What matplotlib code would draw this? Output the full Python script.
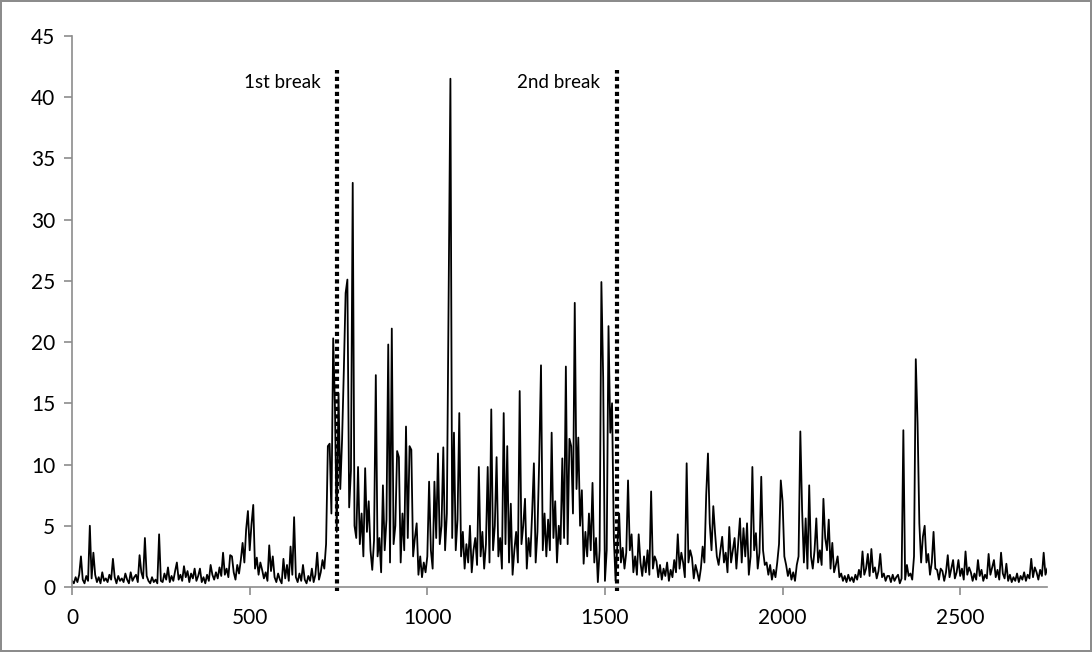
import numpy as np
import matplotlib
matplotlib.use("Agg")
import matplotlib.pyplot as plt

plt.rcParams['font.family'] = ['Lato', 'DejaVu Sans']

# sample spacing of the series (x units)
step = 5

# series values, one row per 100 x units
values = [
    0.5, 0.3, 0.8, 0.4, 1.0, 2.5, 0.6, 0.3, 0.9, 0.5, 5.0, 0.7, 2.8, 1.0, 0.4, 0.8, 0.3, 1.2, 0.5, 0.7,
    0.4, 1.0, 0.6, 2.3, 0.8, 0.3, 0.9, 0.5, 0.7, 0.4, 1.1, 0.6, 0.3, 1.2, 0.5, 0.8, 1.0, 0.4, 2.6, 1.2,
    0.7, 4.0, 0.9, 0.5, 0.3, 0.8, 0.4, 0.6, 0.3, 4.3, 0.5, 0.4, 1.1, 0.6, 1.6, 0.4, 0.9, 0.5, 1.3, 2.0,
    0.6, 1.0, 0.5, 1.7, 0.8, 1.3, 0.4, 1.1, 0.7, 1.5, 0.5, 0.9, 1.5, 0.4, 0.8, 0.3, 1.0, 0.5, 1.8, 1.0,
    0.6, 1.2, 0.7, 1.6, 0.9, 2.8, 1.0, 1.5, 0.8, 2.6, 2.5, 1.2, 0.6, 1.8, 1.1, 2.2, 3.6, 2.0, 4.7, 6.2,
    3.0, 5.1, 6.7, 1.5, 2.4, 1.0, 2.0, 1.4, 0.7, 1.2, 0.5, 3.4, 1.3, 2.5, 0.8, 0.4, 1.1, 0.6, 0.3, 2.3,
    0.7, 1.8, 0.5, 3.3, 1.0, 5.7, 0.8, 0.4, 1.1, 0.5, 1.8, 0.6, 0.3, 0.9, 0.5, 1.5, 0.4, 1.0, 2.8, 0.6,
    1.2, 2.2, 1.5, 3.5, 11.5, 11.7, 6.0, 20.3, 14.7, 4.5, 15.8, 8.0, 12.0, 17.7, 24.0, 25.1, 6.5, 9.5, 33.0, 5.0,
    4.0, 9.8, 3.5, 6.0, 2.5, 9.7, 4.5, 7.0, 3.0, 1.4, 3.8, 17.3, 2.5, 4.0, 1.2, 8.3, 3.0, 5.5, 19.8, 2.0,
    21.1, 3.5, 5.0, 11.1, 10.6, 2.0, 6.0, 3.0, 13.1, 4.0, 11.5, 11.2, 2.5, 4.0, 5.2, 1.0, 2.5, 0.8, 2.0, 1.2,
    2.5, 8.6, 3.0, 1.5, 8.6, 4.0, 10.9, 3.5, 5.0, 11.4, 3.0, 6.0, 23.4, 41.5, 4.0, 12.6, 3.0, 5.5, 14.2, 2.5,
    4.5, 1.5, 3.5, 2.0, 5.0, 1.2, 3.0, 4.0, 1.8, 9.8, 2.5, 4.5, 1.5, 3.5, 9.8, 2.0, 14.5, 3.0, 5.0, 10.6,
    2.5, 4.0, 1.5, 14.2, 3.5, 11.5, 2.0, 6.8, 1.0, 3.0, 4.5, 2.0, 16.0, 3.5, 5.0, 7.2, 1.5, 4.0, 2.5, 6.0,
    10.1, 2.0, 4.5, 10.4, 18.1, 3.0, 6.0, 2.5, 5.5, 3.0, 12.6, 4.0, 7.0, 2.0, 5.0, 3.5, 10.5, 4.0, 18.0, 3.5,
    12.1, 11.5, 6.0, 23.2, 8.0, 12.2, 5.0, 7.9, 1.9, 4.5, 2.5, 6.0, 3.0, 8.5, 2.0, 4.0, 0.4, 3.0, 24.9, 17.1,
    0.5, 3.0, 21.3, 12.6, 15.0, 4.0, 0.5, 3.5, 6.0, 2.0, 3.2, 1.5, 2.8, 8.7, 3.0, 4.3, 1.2, 2.5, 1.0, 4.3,
    2.0, 0.9, 2.5, 1.2, 3.0, 1.0, 7.8, 1.5, 2.5, 2.1, 0.8, 1.8, 0.6, 1.5, 0.9, 2.0, 0.5, 1.4, 0.8, 2.2,
    1.2, 4.3, 1.5, 2.8, 2.0, 0.8, 10.1, 2.0, 3.0, 2.4, 0.7, 1.8, 1.2, 0.5, 1.5, 3.3, 2.0, 7.5, 10.9, 5.2,
    3.0, 6.6, 4.4, 2.5, 1.8, 3.0, 4.1, 2.0, 2.8, 1.2, 4.9, 2.0, 3.0, 4.0, 1.5, 3.5, 5.6, 2.0, 4.8, 2.5,
    5.2, 1.0, 2.5, 9.8, 3.0, 4.4, 1.5, 2.8, 9.0, 3.0, 1.8, 2.0, 1.0, 1.8, 0.6, 1.4, 0.8, 2.0, 3.5, 8.7,
    7.0, 2.5, 1.8, 0.9, 1.5, 0.6, 1.2, 0.5, 1.8, 2.5, 12.7, 6.3, 2.0, 5.6, 1.5, 8.3, 2.5, 1.5, 3.0, 5.6,
    2.0, 3.0, 1.8, 7.2, 4.0, 3.0, 5.5, 1.5, 3.6, 1.2, 1.8, 2.5, 0.8, 1.1, 0.5, 0.9, 0.4, 1.0, 0.5, 0.8,
    0.4, 1.0, 0.6, 1.4, 0.8, 2.9, 1.0, 1.5, 2.7, 0.9, 3.1, 1.2, 1.6, 0.7, 1.3, 2.7, 0.8, 1.1, 0.5, 0.9,
    0.9, 0.4, 1.0, 0.5, 0.8, 1.0, 0.3, 0.7, 12.8, 0.6, 1.8, 0.9, 1.1, 0.6, 2.5, 18.6, 13.4, 5.2, 2.0, 4.1,
    5.0, 2.0, 2.7, 1.0, 2.0, 4.5, 1.5, 1.4, 0.6, 1.5, 1.3, 0.5, 1.2, 2.6, 0.8, 1.5, 2.2, 0.7, 1.2, 2.2,
    0.9, 1.5, 0.6, 2.9, 1.0, 1.6, 1.2, 0.5, 1.1, 0.6, 2.2, 0.9, 1.4, 0.5, 1.0, 0.7, 2.7, 1.0, 1.6, 2.2,
    0.8, 1.4, 0.6, 2.8, 1.1, 0.7, 1.9, 0.5, 1.0, 0.4, 0.8, 0.5, 1.1, 0.4, 0.9, 0.6, 1.2, 0.5, 1.0, 0.7,
    2.3, 0.8, 1.6, 1.2, 0.6, 1.4, 0.9, 2.8, 1.0, 1.5,
]
x_vals = np.arange(len(values)) * step

# structural breaks
break_x = [745, 1533]
break_labels = ["1st break", "2nd break"]

x_ticks = [0, 500, 1000, 1500, 2000, 2500]
y_ticks = [0, 5, 10, 15, 20, 25, 30, 35, 40, 45]

fig = plt.figure(figsize=(10.92, 6.52), dpi=100)
fig.patch.set_edgecolor('#8c8c8c')
fig.patch.set_linewidth(1.5)
ax = fig.add_axes([0.066, 0.0997, 0.893, 0.8453])

ax.plot(x_vals, values, color='black', linewidth=1.3)

for bx, lab in zip(break_x, break_labels):
    ax.plot([bx, bx], [-0.3, 42.2], color='black', linewidth=3.0,
            linestyle=(0, (1, 0.8)), dash_capstyle='butt', clip_on=False)
    ax.text(bx - 46, 41.2, lab, ha='right', va='center', fontsize=13.5)

ax.set_xlim(0, 2745)
ax.set_ylim(0, 45)
ax.set_xticks(x_ticks)
ax.set_yticks(y_ticks)

for s in ['top', 'right']:
    ax.spines[s].set_visible(False)
for s in ['left', 'bottom']:
    ax.spines[s].set_color('#8c8c8c')
    ax.spines[s].set_linewidth(1.2)
ax.tick_params(axis='both', colors='#8c8c8c', length=6, width=1.2,
               labelsize=15, labelcolor='black')
ax.tick_params(axis='x', pad=9)
ax.tick_params(axis='y', pad=6)

fig.savefig("out.png", dpi=100, edgecolor=fig.get_edgecolor())
